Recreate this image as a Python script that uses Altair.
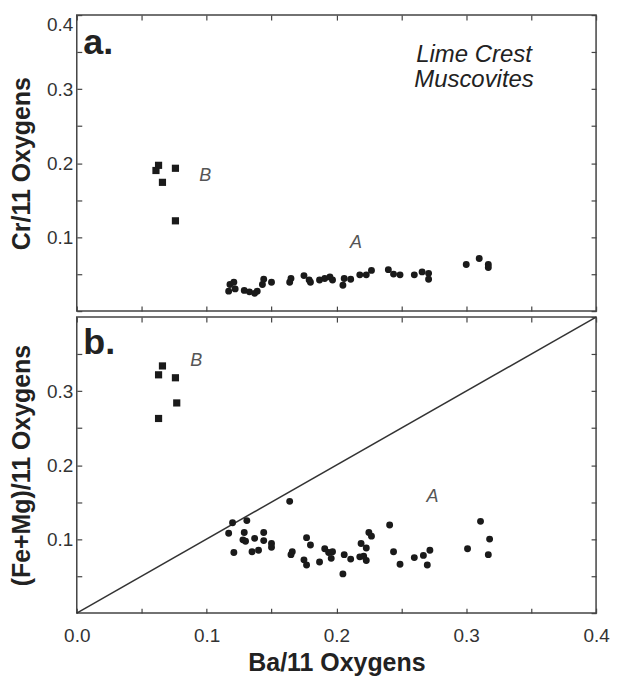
import altair as alt
import pandas as pd

# ---------------- data ----------------
# Panel a: Cr/11 O vs Ba/11 O
a_A_x = [0.118, 0.121, 0.117, 0.122, 0.129, 0.133, 0.139, 0.137, 0.143, 0.144,
         0.150, 0.164, 0.165, 0.175, 0.179, 0.180, 0.187, 0.191, 0.195, 0.197,
         0.205, 0.206, 0.211, 0.218, 0.223, 0.227, 0.240, 0.244, 0.249, 0.260,
         0.266, 0.271, 0.271, 0.300, 0.310, 0.317, 0.317]
a_A_y = [0.036, 0.039, 0.027, 0.030, 0.028, 0.026, 0.027, 0.024, 0.036, 0.043,
         0.039, 0.039, 0.044, 0.048, 0.042, 0.039, 0.042, 0.044, 0.046, 0.042,
         0.035, 0.044, 0.043, 0.049, 0.049, 0.055, 0.056, 0.050, 0.049, 0.049,
         0.053, 0.051, 0.043, 0.063, 0.071, 0.063, 0.059]
a_B_x = [0.063, 0.061, 0.066, 0.076, 0.076]
a_B_y = [0.197, 0.190, 0.174, 0.193, 0.122]

# Panel b: (Fe+Mg)/11 O vs Ba/11 O
b_A_x = [0.164, 0.120, 0.117, 0.131, 0.129, 0.128, 0.130, 0.121, 0.137, 0.135,
         0.140, 0.144, 0.144, 0.150, 0.150, 0.166, 0.165, 0.177, 0.180, 0.175,
         0.177, 0.187, 0.191, 0.194, 0.196, 0.197, 0.205, 0.206, 0.211, 0.219,
         0.218, 0.223, 0.223, 0.225, 0.227, 0.221, 0.241, 0.244, 0.249, 0.260,
         0.267, 0.272, 0.270, 0.301, 0.311, 0.318, 0.317]
b_A_y = [0.151, 0.122, 0.108, 0.125, 0.109, 0.099, 0.097, 0.082, 0.101, 0.083,
         0.085, 0.109, 0.098, 0.094, 0.089, 0.083, 0.079, 0.102, 0.092, 0.072,
         0.065, 0.069, 0.087, 0.082, 0.074, 0.083, 0.053, 0.079, 0.073, 0.094,
         0.076, 0.071, 0.088, 0.109, 0.104, 0.077, 0.119, 0.083, 0.066, 0.075,
         0.078, 0.085, 0.065, 0.087, 0.124, 0.100, 0.079]
b_B_x = [0.066, 0.063, 0.076, 0.077, 0.063]
b_B_y = [0.334, 0.322, 0.318, 0.284, 0.263]

# 1:1 reference line
line_x = [0.0, 0.4]
line_y = [0.0, 0.4]

# axis ticks
TICKS = [0.0, 0.05, 0.1, 0.15, 0.2, 0.25, 0.3, 0.35, 0.4]
TICKS_B_Y = [0.05, 0.1, 0.15, 0.2, 0.25, 0.3, 0.35]

# annotations
ann_a = [("a.", 0.005, 0.348)]
ann_b = [("b.", 0.005, 0.350)]
grp_a = [("B", 0.099, 0.183), ("A", 0.215, 0.092)]
grp_b = [("B", 0.092, 0.340), ("A", 0.274, 0.157)]
site = [("Lime Crest\nMuscovites", 0.306, 0.337)]

# ---------------- style ----------------
FONT = "Liberation Sans"
W, H = 521, 297
INK = "#1a1a1a"
FRAME = "#444444"

sx = alt.Scale(domain=[0, 0.4], nice=False, zero=False)
sy = alt.Scale(domain=[0, 0.4], nice=False, zero=False)

EXPR_X = "round(datum.value*20) % 2 == 0 ? format(datum.value, '.1f') : ''"
EXPR_Y = "(round(datum.value*20) % 2 == 0 && datum.value > 0.001) ? format(datum.value, '.1f') : ''"


def tick_axis(orient, values=TICKS):
    return alt.Axis(orient=orient, values=values, labels=False, domain=False,
                    grid=False, tickSize=5, tickWidth=1.2, tickColor=FRAME,
                    offset=-5, title=None)


def label_axis(orient, title, expr, values=TICKS, flush=False, lpad=4, tpad=10):
    return alt.Axis(orient=orient, values=values, labelExpr=expr, domain=False,
                    grid=False, tickSize=5, tickWidth=1.2, tickColor=FRAME,
                    offset=-5, title=title, labelFont=FONT, labelFontSize=19,
                    labelColor="#333333", labelPadding=lpad,
                    labelOverlap=False, labelBound=False, labelFlush=flush,
                    titleFont=FONT, titleFontSize=25, titleFontWeight="bold",
                    titleColor="#222222", titlePadding=tpad)


def texts(items, **kw):
    df = pd.DataFrame(items, columns=["t", "x", "y"])
    return alt.Chart(df).mark_text(font=FONT, **kw).encode(
        x=alt.X("x:Q", scale=sx, axis=None),
        y=alt.Y("y:Q", scale=sy, axis=None),
        text="t:N",
    )


# ---------------- panel a ----------------
dfaA = pd.DataFrame({"x": a_A_x, "y": a_A_y})
dfaB = pd.DataFrame({"x": a_B_x, "y": a_B_y})

a_circ = alt.Chart(dfaA).mark_circle(size=48, color=INK, opacity=1).encode(
    x=alt.X("x:Q", scale=sx, axis=tick_axis("bottom")),
    y=alt.Y("y:Q", scale=sy, axis=label_axis("left", "Cr/11 Oxygens", EXPR_Y,
                                              flush=True, tpad=12)),
)
a_sq = alt.Chart(dfaB).mark_square(size=52, color=INK, opacity=1).encode(
    x=alt.X("x:Q", scale=sx, axis=tick_axis("top")),
    y=alt.Y("y:Q", scale=sy, axis=tick_axis("right")),
)
a_lab = texts(ann_a, fontSize=36, fontWeight="bold", color="#222222",
              align="left", baseline="alphabetic")
a_grp = texts(grp_a, fontSize=18, fontStyle="italic", color="#555555",
              align="center", baseline="middle")
a_site = texts(site, fontSize=24, fontStyle="italic", color="#222222",
               align="center", baseline="alphabetic", lineBreak="\n",
               lineHeight=25)

panel_a = alt.layer(a_circ, a_sq, a_lab, a_grp, a_site).resolve_axis(
    x="independent", y="independent").properties(width=W, height=H)

# ---------------- panel b ----------------
dfbA = pd.DataFrame({"x": b_A_x, "y": b_A_y})
dfbB = pd.DataFrame({"x": b_B_x, "y": b_B_y})
dfl = pd.DataFrame({"x": line_x, "y": line_y})

b_line = alt.Chart(dfl).mark_line(color="#333333", strokeWidth=1.5).encode(
    x=alt.X("x:Q", scale=sx, axis=None),
    y=alt.Y("y:Q", scale=sy, axis=None),
)
b_circ = alt.Chart(dfbA).mark_circle(size=48, color=INK, opacity=1).encode(
    x=alt.X("x:Q", scale=sx, axis=label_axis("bottom", "Ba/11 Oxygens", EXPR_X,
                                              lpad=13, tpad=6)),
    y=alt.Y("y:Q", scale=sy, axis=label_axis("left", "(Fe+Mg)/11 Oxygens",
                                              EXPR_Y, values=TICKS_B_Y,
                                              tpad=12)),
)
b_sq = alt.Chart(dfbB).mark_square(size=52, color=INK, opacity=1).encode(
    x=alt.X("x:Q", scale=sx, axis=tick_axis("top")),
    y=alt.Y("y:Q", scale=sy, axis=tick_axis("right")),
)
b_lab = texts(ann_b, fontSize=36, fontWeight="bold", color="#222222",
              align="left", baseline="alphabetic")
b_grp = texts(grp_b, fontSize=18, fontStyle="italic", color="#555555",
              align="center", baseline="middle")

panel_b = alt.layer(b_line, b_circ, b_sq, b_lab, b_grp).resolve_axis(
    x="independent", y="independent").properties(width=W, height=H)

chart = alt.vconcat(panel_a, panel_b, spacing=0).properties(
    padding={"left": 0, "top": 4, "right": 5, "bottom": 2},
    background="white",
).configure_view(stroke=FRAME, strokeWidth=1.5)

chart.save("out.html", embed_options={"renderer": "svg", "actions": False})
